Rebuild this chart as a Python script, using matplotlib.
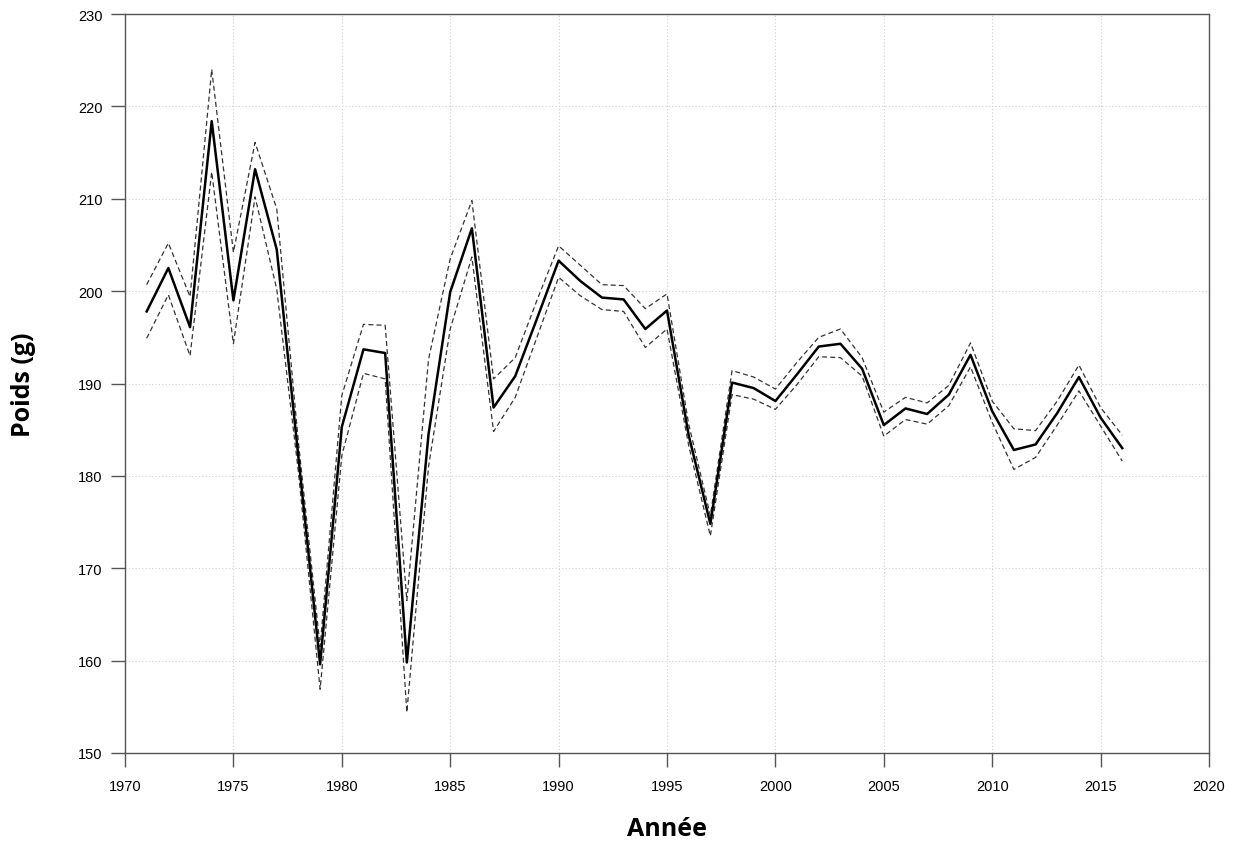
import matplotlib
matplotlib.use("Agg")
import matplotlib.pyplot as plt
import numpy as np

# années et poids moyens (avec bornes de l'intervalle)
annees = np.arange(1971, 2017)
poids = [197.8, 202.5, 196.1, 218.4, 199.0, 213.2, 204.5, 182.0, 159.6, 185.3,
         193.7, 193.3, 159.8, 184.5, 199.9, 206.8, 187.4, 190.8, 197.0, 203.3,
         201.1, 199.3, 199.1, 195.9, 197.9, 184.4, 174.8, 190.1, 189.5, 188.1,
         191.0, 194.0, 194.3, 191.6, 185.5, 187.3, 186.7, 188.8, 193.1, 187.0,
         182.8, 183.4, 186.8, 190.7, 186.3, 183.0]
borne_sup = [200.7, 205.2, 199.4, 224.0, 204.2, 216.1, 208.9, 183.6, 161.5, 188.7,
             196.4, 196.3, 166.5, 192.6, 203.5, 209.8, 190.5, 192.8, 199.0, 204.9,
             202.8, 200.7, 200.6, 198.1, 199.7, 185.6, 175.7, 191.4, 190.7, 189.4,
             192.3, 195.0, 195.9, 192.8, 186.9, 188.5, 187.9, 189.8, 194.4, 188.1,
             185.1, 184.9, 188.1, 192.0, 187.4, 184.4]
borne_inf = [194.9, 199.6, 193.0, 212.9, 194.3, 210.2, 200.2, 180.4, 156.9, 182.2,
             191.1, 190.5, 154.4, 181.0, 195.9, 203.7, 184.8, 188.5, 195.0, 201.5,
             199.5, 198.0, 197.8, 193.9, 195.9, 183.3, 173.5, 188.8, 188.3, 187.2,
             189.9, 192.9, 192.8, 190.8, 184.3, 186.1, 185.6, 187.6, 191.8, 185.8,
             180.7, 182.0, 185.5, 189.2, 185.4, 181.6]

xticks = np.arange(1970, 2021, 5)
yticks = np.arange(150, 231, 10)

fig = plt.figure(figsize=(12.43, 8.53), dpi=100)
ax = fig.add_axes([125 / 1243, 1 - 754 / 853, (1209 - 125) / 1243, (754 - 15) / 853])

ax.plot(annees, borne_sup, color='#333333', lw=0.9, dashes=(4, 2.5))
ax.plot(annees, borne_inf, color='#333333', lw=0.9, dashes=(4, 2.5))
ax.plot(annees, poids, color='black', lw=1.8)

ax.set_xlim(1970, 2020)
ax.set_ylim(150, 230)
ax.set_xticks(xticks)
ax.set_yticks(yticks)
ax.grid(True, color='#d0d0d0', linestyle=(0, (1, 2)), lw=0.8)
ax.set_axisbelow(True)

for s in ax.spines.values():
    s.set_color('#555555')
    s.set_linewidth(1.0)
ax.tick_params(direction='out', length=10, width=1, color='#555555',
               labelsize=10.5)
ax.tick_params(axis='x', pad=9)
ax.tick_params(axis='y', pad=6)
for lab in ax.get_xticklabels() + ax.get_yticklabels():
    lab.set_family(['Liberation Sans', 'DejaVu Sans'])

ax.set_xlabel('Année', family=['Open Sans', 'DejaVu Sans'], fontweight='bold',
              fontsize=18, labelpad=16)
ax.set_ylabel('Poids (g)', family=['Open Sans', 'DejaVu Sans'], fontweight='bold',
              fontsize=18, labelpad=30)

fig.savefig('out.png', dpi=100)
